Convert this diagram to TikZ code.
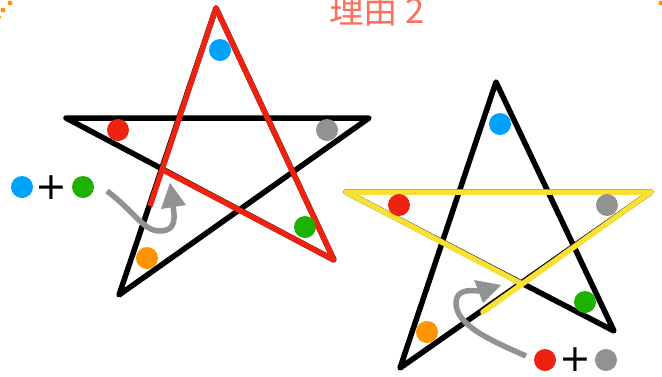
\documentclass[tikz,border=0pt]{standalone}
\usepackage{fontspec}
\newfontfamily\cjk{Noto Sans CJK JP}
\newfontfamily\dejavu{DejaVu Sans}
\usetikzlibrary{arrows.meta}
\definecolor{cblue}{RGB}{0,162,255}
\definecolor{cred}{RGB}{238,34,17}
\definecolor{cgreen}{RGB}{29,177,0}
\definecolor{corange}{RGB}{255,147,0}
\definecolor{cgray}{RGB}{146,146,146}
\definecolor{cyellow}{RGB}{250,224,50}
\definecolor{ctitle}{RGB}{255,110,90}
\tikzset{
  starline/.style={line width=5.5pt, black, line join=round, line cap=round},
  redline/.style={line width=5.5pt, cred, line join=round, line cap=butt},
  yelline/.style={line width=5.5pt, cyellow, line join=round, line cap=round},
  dot/.style={circle, fill=#1, minimum size=22pt, inner sep=0pt},
  plustext/.style={font=\dejavu\fontsize{38}{38}\selectfont, inner sep=0pt},
  grayarrow/.style={line width=5.5pt, cgray, line cap=butt},
  tiptri/.style={fill=cgray},
  corner/.style={circle, fill=corange, minimum size=5pt, inner sep=0pt}
}
\begin{document}
\begin{tikzpicture}[x=1pt,y=-1pt]
\useasboundingbox (0,0) rectangle (662,376);
% corner dots (dotted frame remnants)
\node[corner] (c1) at (10,3) {};
\node[corner] (c2) at (3,10) {};
\node[corner, minimum size=3pt] (c3) at (0,17) {};
\node[corner] (c4) at (661,3) {};
% title
\node[anchor=base, inner sep=0pt, text=ctitle, font=\cjk\fontsize{34.5}{34.5}\selectfont] (title) at (377,23.5) {理由 2};

% ---------- left star ----------
\coordinate (LT) at (216,8);
\coordinate (LL) at (66,118);
\coordinate (LR) at (369,118);
\coordinate (LBL) at (119,295);
\coordinate (LBR) at (334,260);
\coordinate (LX) at (163,170);
\coordinate (LS) at (150,206);
\draw[starline] (LT) -- (LBR) -- (LL) -- (LR) -- (LBL) -- cycle;
\draw[redline] (LS) -- (LT) -- (LBR) -- (LX);
\node[dot=cblue] (lb) at (220,50) {};
\node[dot=cred] (lr) at (118,130) {};
\node[dot=cgray] (lg) at (327,130) {};
\node[dot=cgreen] (lgr) at (305,227) {};
\node[dot=corange] (lo) at (147,258) {};
% left legend
\node[dot=cblue] (lgb) at (22,187) {};
\node[plustext] (lplus) at (51,188) {+};
\node[dot=cgreen] (lgg) at (83,187) {};
% left arrow
\draw[grayarrow] (107,191) .. controls (135,212) and (143,231) .. (160,231)
  .. controls (176,231) and (175,218) .. (173,206);
\fill[tiptri] (161,209) -- (186,205) -- (170,183) -- cycle;

% ---------- right star ----------
\coordinate (RT) at (496,82);
\coordinate (RL) at (346,192);
\coordinate (RR) at (651,192);
\coordinate (RBL) at (400,368);
\coordinate (RBR) at (614,331);
\coordinate (RX) at (522,284);
\coordinate (RS) at (483,312);
\draw[starline] (RT) -- (RBR) -- (RL) -- (RR) -- (RBL) -- cycle;
\begin{scope}[yshift=1.5pt]
\draw[yelline] (RX) -- (RL) -- (RR) -- (RS);
\end{scope}
\node[dot=cblue] (rb) at (500,124) {};
\node[dot=cred] (rr) at (399,205) {};
\node[dot=cgray] (rg) at (607,205) {};
\node[dot=cgreen] (rgr) at (585,302) {};
\node[dot=corange] (ro) at (427,332) {};
% right legend
\node[dot=cred] (rgr2) at (545,360) {};
\node[plustext] (rplus) at (575,360) {+};
\node[dot=cgray] (rgg) at (606,360) {};
% right arrow
\draw[grayarrow] (526,356) .. controls (490,340) and (455,325) .. (456,302)
  .. controls (457,290) and (468,290) .. (479,291);
\fill[tiptri] (474,280) -- (483,303) -- (501,285) -- cycle;
\end{tikzpicture}
\end{document}
